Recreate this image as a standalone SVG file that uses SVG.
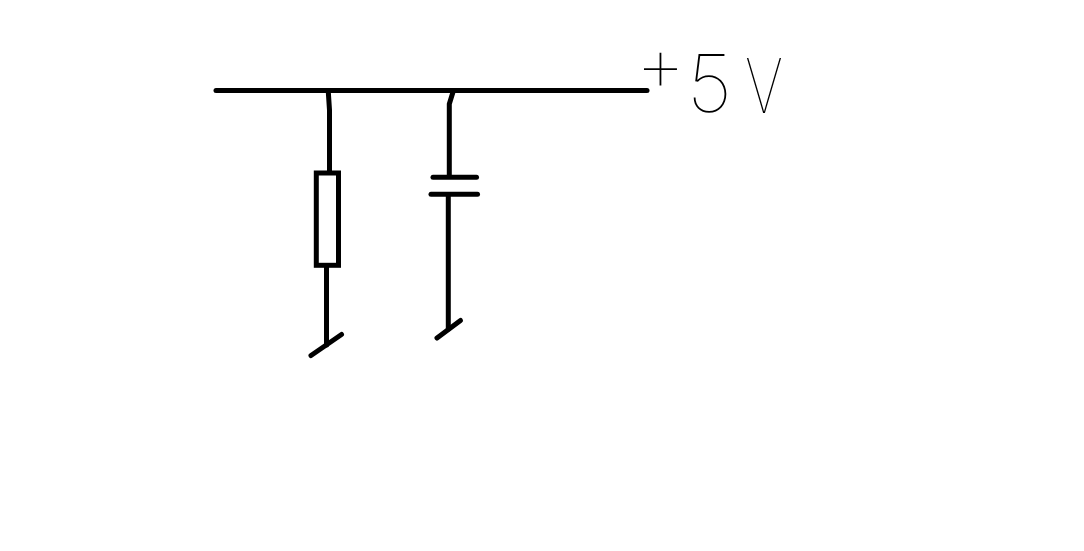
<svg xmlns="http://www.w3.org/2000/svg" width="1084" height="551" viewBox="0 0 1084 551">
  <style>
    .w { fill: none; stroke: #000; stroke-width: 5; stroke-linecap: round; stroke-linejoin: round; }
    .b { fill: #fff; stroke: #000; stroke-width: 5; }
    .t { font-family: "Inter", "Liberation Sans", sans-serif; font-weight: 100; fill: #000; }
  </style>
  <rect width="1084" height="551" fill="#fff"/>
  <g id="connectors">
    <path class="w" d="M216 90.5H647"/>
    <path class="w" d="M328.3 92L329.5 110V172"/>
    <path class="w" d="M326.5 266V345"/>
    <path class="w" d="M453 92L449.3 104V176"/>
    <path class="w" d="M448.3 195V329"/>
  </g>
  <g id="resistor"><rect class="b" x="316.3" y="173" width="22.2" height="92.3"/></g>
  <g id="capacitor">
    <path class="w" d="M433 177.3H476.5"/>
    <path class="w" d="M431 194.3H477.5"/>
  </g>
  <g id="ground-left"><path class="w" d="M311 355.5L341.5 334.5"/></g>
  <g id="ground-right"><path class="w" d="M437 338L460.5 320.5"/></g>
  <g id="label">
    <text class="t"><tspan x="635" y="92" font-size="80">+</tspan><tspan x="687" y="112" font-size="80">5</tspan><tspan x="745" y="113" font-size="76" textLength="38" lengthAdjust="spacingAndGlyphs">V</tspan></text>
  </g>
</svg>
